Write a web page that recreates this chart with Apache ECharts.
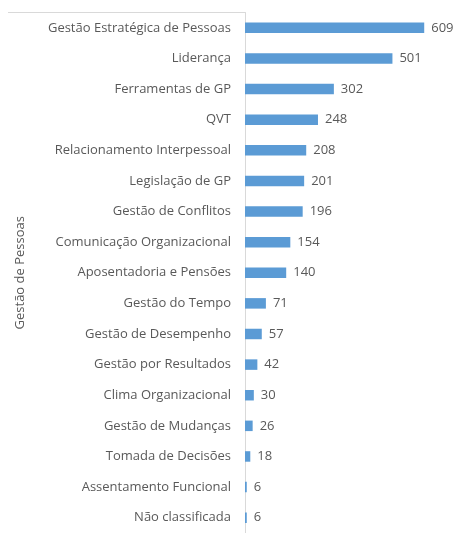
<!DOCTYPE html>
<html lang="pt">
<head>
	<meta charset="UTF-8">
	<title>Gestão de Pessoas</title>
	<script src="https://cdn.jsdelivr.net/npm/echarts@6/dist/echarts.min.js"></script>
	<style>
		html, body { margin: 0; padding: 0; background: #fff; }
	</style>
</head>
<body>
	<div id="chart" style="width: 456px;height: 533px;"></div>
	<script>
		// categorias de cima para baixo
		var categorias = [
			'Gestão Estratégica de Pessoas', 'Liderança', 'Ferramentas de GP', 'QVT',
			'Relacionamento Interpessoal', 'Legislação de GP', 'Gestão de Conflitos',
			'Comunicação Organizacional', 'Aposentadoria e Pensões', 'Gestão do Tempo',
			'Gestão de Desempenho', 'Gestão por Resultados', 'Clima Organizacional',
			'Gestão de Mudanças', 'Tomada de Decisões', 'Assentamento Funcional',
			'Não classificada'
		];
		var valores = [609, 501, 302, 248, 208, 201, 196, 154, 140, 71, 57, 42, 30, 26, 18, 6, 6];
		var tituloEixo = 'Gestão de Pessoas';

		var fonte = '"Open Sans", sans-serif';
		var cinza = '#595959';

		var myChart = echarts.init(document.getElementById('chart'));
		myChart.setOption({
			animation: false,
			grid: { left: 245, top: 12.5, width: 206, height: 525 },
			xAxis: {
				type: 'value',
				min: 0,
				max: 700,
				show: false
			},
			yAxis: {
				type: 'category',
				inverse: true,
				data: categorias,
				name: tituloEixo,
				nameLocation: 'middle',
				nameGap: 218,
				nameRotate: 90,
				nameTextStyle: { color: cinza, fontFamily: fonte, fontSize: 13 },
				axisLine: { lineStyle: { color: '#d9d9d9' } },
				axisTick: { show: false },
				axisLabel: { color: cinza, fontFamily: fonte, fontSize: 13, margin: 14 }
			},
			graphic: [{
				type: 'line',
				shape: { x1: 8, y1: 12.5, x2: 245, y2: 12.5 },
				style: { stroke: '#d9d9d9', lineWidth: 1 }
			}],
			series: [{
				type: 'bar',
				data: valores,
				barWidth: 10.5,
				itemStyle: { color: '#5b9bd5' },
				label: {
					show: true,
					position: 'right',
					distance: 7,
					color: cinza,
					fontFamily: fonte,
					fontSize: 13
				}
			}]
		});
	</script>
</body>
</html>
